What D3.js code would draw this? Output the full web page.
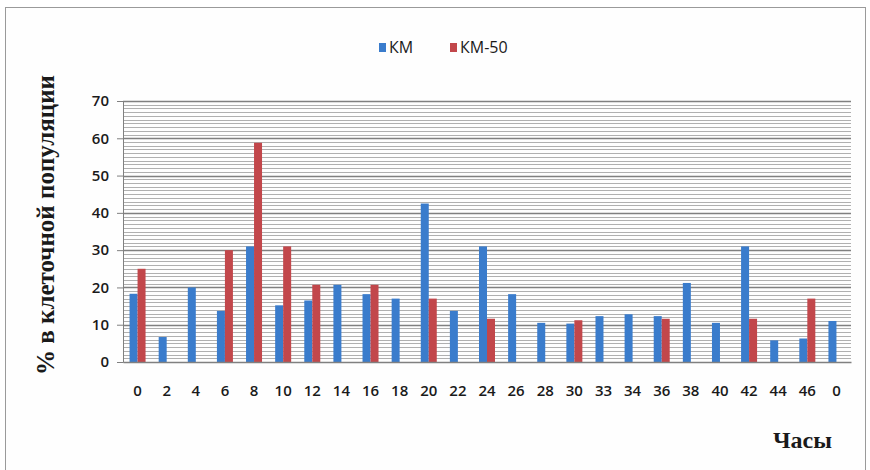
<!DOCTYPE html>
<html><head><meta charset="utf-8">
<script src="https://cdn.jsdelivr.net/npm/d3@7/dist/d3.min.js"></script>
<style>body{margin:0;background:#fff}svg{display:block}</style>
</head><body><svg id="c" width="870" height="470"></svg>
<script>
const categories = ["0","2","4","6","8","10","12","14","16","18","20","22","24","26","28","30","33","34","36","38","40","42","44","46","0"];
const seriesNames = ["КМ","КМ-50"];
const km   = [18.3,6.7,20,13.7,31,15.2,16.5,20.7,18.2,17,42.5,13.7,31,18.2,10.5,10.3,12.3,12.8,12.3,21.2,10.5,31,5.8,6.3,11];
const km50 = [25,0,0,30,58.8,31,20.7,0,20.7,0,17,0,11.6,0,0,11.2,0,0,11.6,0,0,11.6,0,17,0];
const yTicks = [0,10,20,30,40,50,60,70];
const colors = ["#3a7ccc","#c2474b"];

const svg = d3.select("#c");
const L=123, R=851, T=101, B=362;
svg.append("rect").attr("x",5.5).attr("y",7.5).attr("width",860).attr("height",470).attr("fill","#fefefe").attr("stroke","#9a9a9a");

const idx = categories.map((d,i)=>i);
const x = d3.scaleBand().domain(idx).range([L,R]);
const x1 = d3.scaleBand().domain([0,1]).range([x.bandwidth()/2-8, x.bandwidth()/2+8]);
const y = d3.scaleLinear().domain([0,70]).range([B,T]);

// grid
const g = svg.append("g");
g.selectAll("line.minor").data(d3.range(1,71).filter(v=>v%10)).join("line")
 .attr("x1",L).attr("x2",R).attr("y1",d=>Math.round(y(d))+0.5).attr("y2",d=>Math.round(y(d))+0.5)
 .attr("stroke","#b0b0b0").attr("stroke-width",1);
g.selectAll("line.major").data(yTicks.slice(1)).join("line")
 .attr("x1",L).attr("x2",R).attr("y1",d=>Math.round(y(d))+0.5).attr("y2",d=>Math.round(y(d))+0.5)
 .attr("stroke","#808080").attr("stroke-width",1.3);

// bars
const series=[km,km50];
series.forEach((s,si)=>{
  svg.append("g").selectAll("rect").data(s.map((v,i)=>({v,i}))).join("rect")
   .attr("x",d=>x(d.i)+x1(si)).attr("width",x1.bandwidth())
   .attr("y",d=>y(d.v)).attr("height",d=>y(0)-y(d.v))
   .attr("fill",colors[si]);
});

// y axis
const ya = svg.append("g").attr("transform",`translate(${L},0)`)
 .call(d3.axisLeft(y).tickValues(yTicks).tickSize(6).tickPadding(8));
ya.select(".domain").attr("stroke","#808080");
ya.selectAll(".tick line").attr("stroke","#808080");
ya.selectAll("text").attr("font-family","'Open Sans',sans-serif").attr("font-weight",600).attr("font-size",15).attr("fill","#1a1a1a");
// x axis
const xa = svg.append("g").attr("transform",`translate(0,${B})`)
 .call(d3.axisBottom(x).tickFormat(i=>categories[i]).tickSize(0).tickPadding(23));
xa.select(".domain").attr("stroke","#808080").attr("stroke-width",1.5);
xa.selectAll("text").attr("font-family","'Open Sans',sans-serif").attr("font-weight",600).attr("font-size",15).attr("fill","#1a1a1a");

// titles
svg.append("text").attr("transform","translate(54,225) rotate(-90)").attr("text-anchor","middle")
 .attr("font-family","'Liberation Serif',serif").attr("font-weight","bold").attr("font-size",25).attr("fill","#1a1a1a")
 .text("% в клеточной популяции");
svg.append("text").attr("x",832).attr("y",448).attr("text-anchor","end")
 .attr("font-family","'Liberation Serif',serif").attr("font-weight","bold").attr("font-size",24).attr("fill","#1a1a1a")
 .text("Часы");

// legend
const lg = svg.append("g").attr("transform","translate(379,0)");
const lx=[0,71];
seriesNames.forEach((n,i)=>{
  lg.append("rect").attr("x",lx[i]).attr("y",43).attr("width",7).attr("height",9).attr("fill",colors[i]);
  lg.append("text").attr("x",lx[i]+10).attr("y",53).attr("font-family","'Open Sans',sans-serif").attr("font-size",16).attr("fill","#1a1a1a").text(n);
});
</script></body></html>
